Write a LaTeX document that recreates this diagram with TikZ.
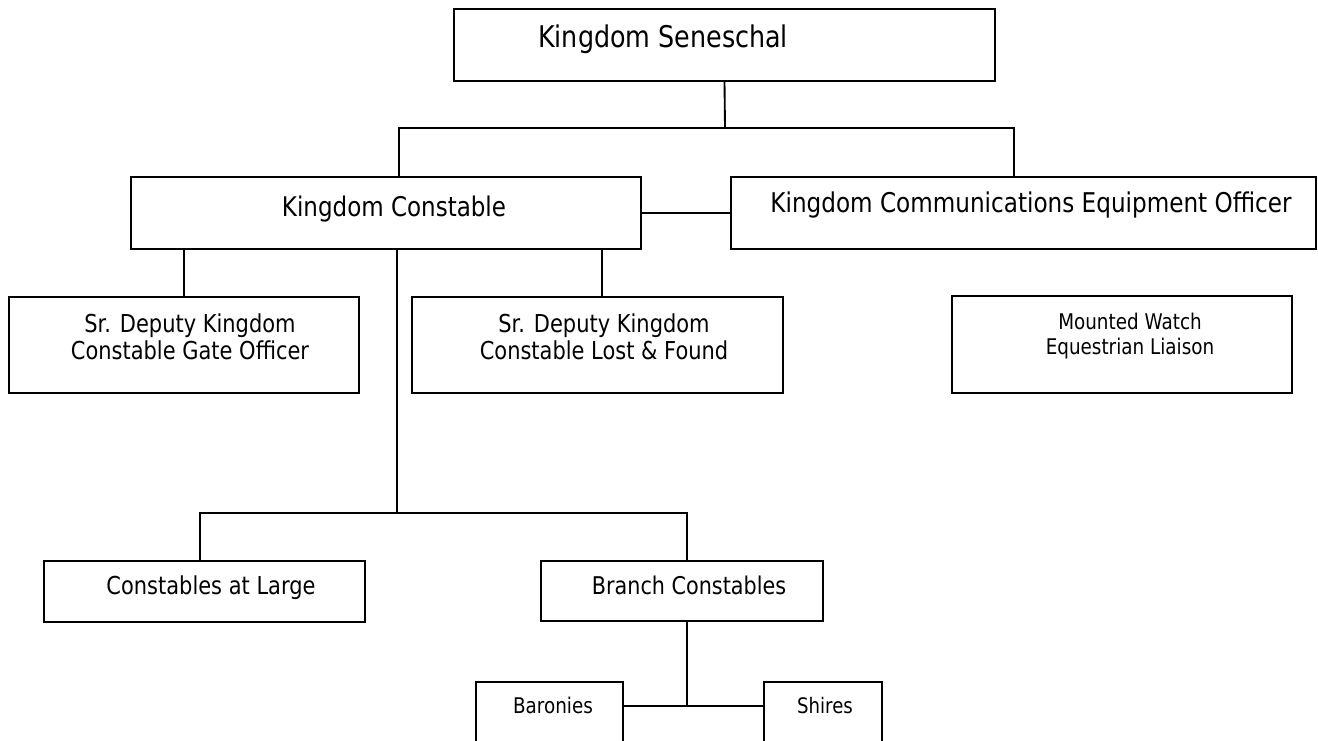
\documentclass[tikz,border=0pt]{standalone}
\usepackage{fontspec}
\setmainfont{DejaVu Sans}[FakeStretch=0.85]
\begin{document}
\begin{tikzpicture}[x=0.75pt,y=-0.75pt,
  box/.style={draw, line width=1.4pt, inner sep=0pt, outer sep=0pt, rectangle},
  txt/.style={inner sep=0pt, anchor=base, align=center},
  conn/.style={line width=1.4pt}]
\useasboundingbox (0,0) rectangle (1318,740);
\clip (0,0) rectangle (1318,740);
% boxes
\node[box, minimum width=405.75pt, minimum height=54pt] (sen) at (724.5,45) {};
\node[box, minimum width=382.5pt, minimum height=54pt] (con) at (386,213) {};
\node[box, minimum width=438.75pt, minimum height=54pt] (com) at (1023.5,213) {};
\node[box, minimum width=262.5pt, minimum height=72pt] (gate) at (184,345) {};
\node[box, minimum width=278.25pt, minimum height=72pt] (lost) at (597.5,345) {};
\node[box, minimum width=255pt, minimum height=72.75pt] (mount) at (1122,344.5) {};
\node[box, minimum width=240.75pt, minimum height=45.75pt] (cal) at (204.5,591.5) {};
\node[box, minimum width=211.5pt, minimum height=45pt] (branch) at (682,591) {};
\node[box, minimum width=110.25pt, minimum height=58.5pt] (bar) at (549.5,721) {};
\node[box, minimum width=88.5pt, minimum height=58.5pt] (shi) at (823,721) {};
% texts
\node[txt, anchor=base west, font=\fontsize{22.4pt}{26pt}\selectfont] (sen-t) at (538,47) {Kingdom Seneschal};
\node[txt, font=\fontsize{20.3pt}{24pt}\selectfont] (con-t) at (394,216) {Kingdom Constable};
\node[txt, font=\fontsize{20.4pt}{24pt}\selectfont] (com-t) at (1031,212) {Kingdom Communications Equipment Officer};
\node[txt, font=\fontsize{18.5pt}{20.25pt}\selectfont] (gate-t) at (190,359) {Sr. Deputy Kingdom\\Constable Gate Officer};
\node[txt, font=\fontsize{18.5pt}{20.25pt}\selectfont] (lost-t) at (604,359) {Sr. Deputy Kingdom\\Constable Lost \& Found};
\node[txt, font=\fontsize{16.2pt}{18.75pt}\selectfont] (mount-t) at (1130,354) {Mounted Watch\\Equestrian Liaison};
\node[txt, font=\fontsize{18.5pt}{21pt}\selectfont] (cal-t) at (211,594) {Constables at Large};
\node[txt, font=\fontsize{18.3pt}{21pt}\selectfont] (branch-t) at (689,594) {Branch Constables};
\node[txt, font=\fontsize{16.2pt}{20pt}\selectfont] (bar-t) at (553,713) {Baronies};
\node[txt, font=\fontsize{16pt}{20pt}\selectfont] (shi-t) at (825,713) {Shires};
% junction coordinates
\coordinate (b1) at (725,128);
\coordinate (b1L) at (399,128);
\coordinate (b1R) at (1014,128);
\coordinate (xL) at (602,0);
\coordinate (xM) at (397,0);
\coordinate (b2) at (397,513);
\coordinate (b2L) at (200,513);
\coordinate (b2R) at (687,513);
\coordinate (b3) at (687,706);
% connectors
\draw[conn] (sen.south) -- (b1);
\draw[conn] (con.north -| b1L) -- (b1L) -- (b1R) -- (com.north -| b1R);
\draw[conn] (con.east) -- (com.west);
\draw[conn] (con.south -| gate.north) -- (gate.north);
\draw[conn] (con.south -| xL) -- (lost.north -| xL);
\draw[conn] (con.south -| xM) -- (b2);
\draw[conn] (cal.north -| b2L) -- (b2L) -- (b2R) -- (branch.north -| b2R);
\draw[conn] (branch.south -| b3) -- (b3);
\draw[conn] (bar.east |- b3) -- (shi.west |- b3);
\end{tikzpicture}
\end{document}
